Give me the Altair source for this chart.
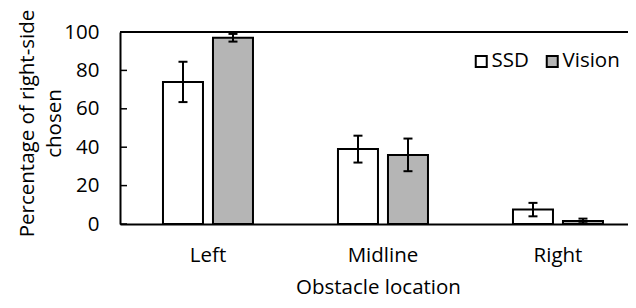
import altair as alt
import pandas as pd

categories = ["Left", "Midline", "Right"]
groups = ["SSD", "Vision"]
ssd_values = [74, 39, 7.5]
ssd_errors = [10.5, 7, 3.5]
vision_values = [97, 36, 1.6]
vision_errors = [2, 8.5, 1.2]
y_ticks = [0, 20, 40, 60, 80, 100]
x_title = "Obstacle location"
y_title = ["Percentage of right-side", "chosen"]
group_colors = ["#ffffff", "#b5b5b5"]

rows = []
for i, c in enumerate(categories):
    rows.append({"location": c, "group": "SSD", "value": ssd_values[i],
                 "lo": ssd_values[i] - ssd_errors[i], "hi": ssd_values[i] + ssd_errors[i]})
    rows.append({"location": c, "group": "Vision", "value": vision_values[i],
                 "lo": vision_values[i] - vision_errors[i], "hi": vision_values[i] + vision_errors[i]})
df = pd.DataFrame(rows)

FONT = "Open Sans"
FS = 20.5
W, H = 508, 192

x_enc = alt.X(
    "location:N", sort=categories,
    scale=alt.Scale(domain=categories, paddingInner=0.4857, paddingOuter=0.1943, align=0.632),
    axis=alt.Axis(title=x_title, domain=True, domainColor="black", domainWidth=2,
                  ticks=False, tickSize=0, labelAngle=0, labelFont=FONT, labelFontSize=FS,
                  labelColor="black", labelBaseline="alphabetic", labelPadding=37,
                  titleFont=FONT, titleFontSize=FS, titleFontWeight="normal", titleColor="black",
                  titleBaseline="alphabetic", titleY=69, titleX=258, titleAlign="center"),
)
x_off = alt.XOffset("group:N", scale=alt.Scale(domain=groups, paddingInner=0.2, paddingOuter=0))
y_scale = alt.Scale(domain=[0, 100], nice=False, zero=True)
y_axis = alt.Axis(values=y_ticks, domain=True, domainColor="black", domainWidth=2, ticks=False,
                  tickSize=0, grid=False, labelOverlap=False, labelFont=FONT, labelFontSize=FS,
                  labelColor="black", labelPadding=21, labelBaseline="middle", titleFont=FONT,
                  titleFontSize=FS, titleFontWeight="normal", titleColor="black", titleX=-92.5,
                  titleY=91, titleAlign="center", titleBaseline="middle", titleLineHeight=27,
                  titleAngle=270)

def yenc(field):
    return alt.Y(field, scale=y_scale, axis=y_axis, title=y_title)

bars = alt.Chart(df).mark_bar(stroke="black", strokeWidth=2, opacity=1).encode(
    x=x_enc, xOffset=x_off,
    y=yenc("value:Q"),
    color=alt.Color("group:N", scale=alt.Scale(domain=groups, range=group_colors),
                    legend=alt.Legend(title=None, orient="none", legendX=351, legendY=19,
                                      direction="horizontal", padding=0, symbolType="square",
                                      symbolSize=121, symbolStrokeColor="black",
                                      symbolStrokeWidth=2, symbolOpacity=1, labelFont=FONT,
                                      labelFontSize=FS, labelColor="black", labelOffset=0,
                                      columnPadding=13, labelBaseline="middle")),
)

err = alt.Chart(df).mark_rule(color="black", strokeWidth=2).encode(
    x=x_enc, xOffset=x_off, y=yenc("lo:Q"), y2="hi:Q",
)
cap_lo = alt.Chart(df).mark_tick(color="black", thickness=2, size=9, opacity=1).encode(
    x=x_enc, xOffset=x_off, y=yenc("lo:Q"),
)
cap_hi = alt.Chart(df).mark_tick(color="black", thickness=2, size=9, opacity=1).encode(
    x=x_enc, xOffset=x_off, y=yenc("hi:Q"),
)

top_line = alt.Chart(pd.DataFrame({"value": [100]})).mark_rule(color="black", strokeWidth=2).encode(
    y=yenc("value:Q"), x=alt.value(0), x2=alt.value(W),
)
inner_ticks = alt.Chart(pd.DataFrame({"value": y_ticks})).mark_rule(color="black", strokeWidth=1.5).encode(
    y=yenc("value:Q"), x=alt.value(0), x2=alt.value(7),
)

chart = alt.layer(bars, err, cap_lo, cap_hi, top_line, inner_ticks).properties(
    width=W, height=H,
    autosize=alt.AutoSizeParams(type="none"),
    padding={"left": 112, "top": 24, "right": 0, "bottom": 76},
    background="white",
).configure_view(stroke=None)

chart.save("out.html", embed_options={"renderer": "svg", "actions": False})
